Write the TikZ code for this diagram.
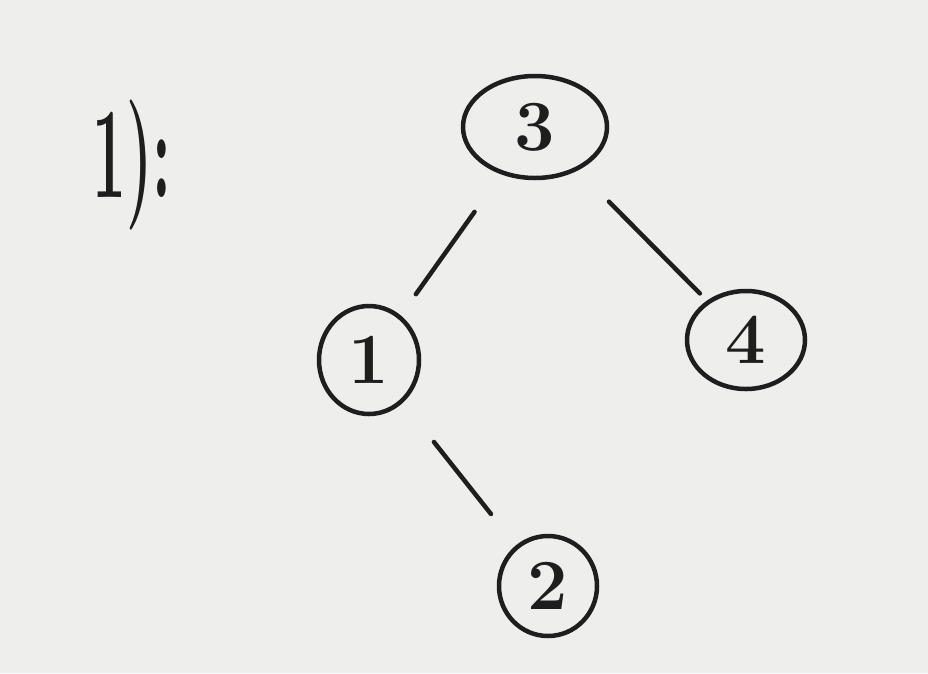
\documentclass[tikz,border=0pt]{standalone}
\usetikzlibrary{shapes.geometric}
\definecolor{paper}{HTML}{EEEEEC}
\definecolor{ink}{HTML}{1E1E1E}
\begin{document}
\begin{tikzpicture}[x=1pt,y=-1pt,
  vert/.style={ellipse,draw=ink,line width=4.5pt,inner sep=0pt,text=ink,font=\fontsize{72}{72}\selectfont\bfseries},
  link/.style={draw=ink,line width=4.5pt,line cap=round}]
\fill[paper] (0,0) rectangle (928,673);
\useasboundingbox (0,0) rectangle (928,673);
\node[vert,minimum width=144pt,minimum height=102pt] (n3) at (535,127) {3};
\node[vert,minimum width=100pt,minimum height=108pt] (n1) at (369,360) {1};
\node[vert,minimum width=118pt,minimum height=98pt] (n4) at (746,340) {4};
\node[vert,minimum width=98pt,minimum height=100pt] (n2) at (548,586) {2};
\node[text=ink,font=\fontsize{100}{100}\selectfont\bfseries,xscale=0.6,yscale=1.3] (lbl) at (132,165) {1):};
\draw[link,shorten <=46pt,shorten >=26pt] (n3) -- (n1);
\draw[link,shorten <=44pt,shorten >=10pt] (n3) -- (n4);
\draw[link,shorten <=50pt,shorten >=40pt] (n1) -- (n2);
\end{tikzpicture}
\end{document}
